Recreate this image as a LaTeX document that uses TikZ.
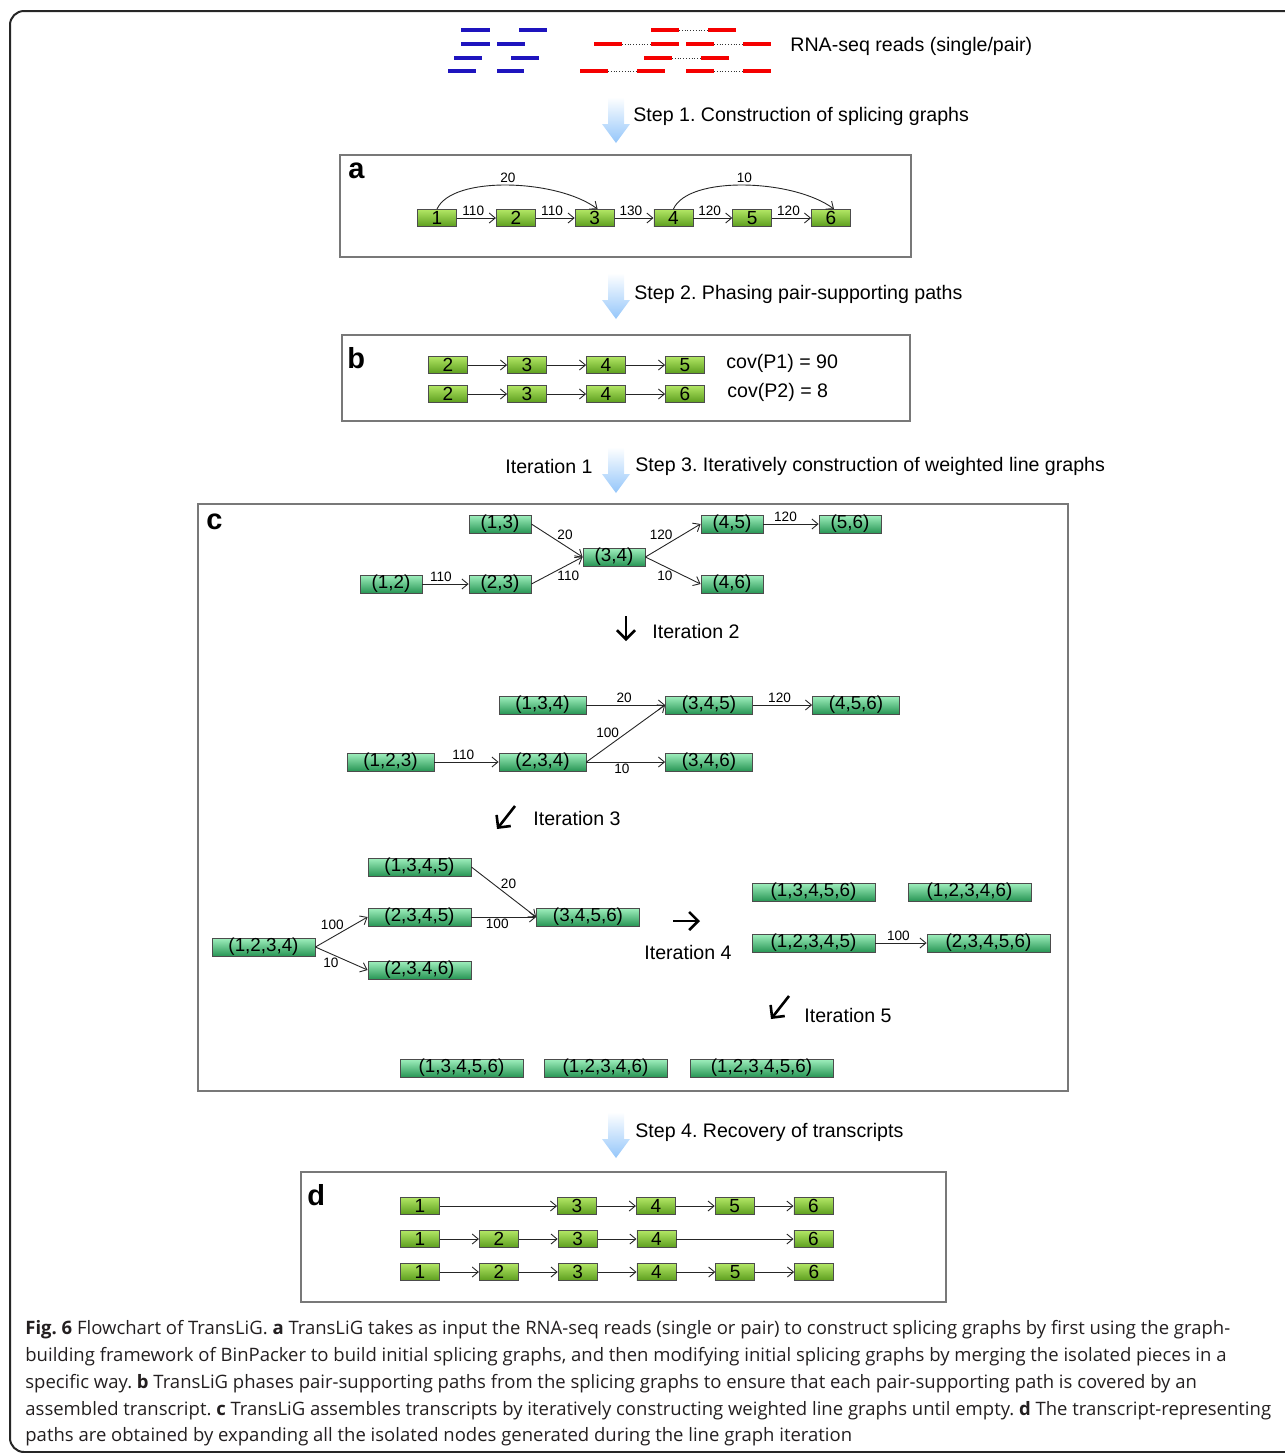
\documentclass[tikz,border=0pt]{standalone}
\usepackage{fontspec}
\setmainfont{Liberation Sans}
\newfontfamily\capfont{Open Sans}
\usetikzlibrary{arrows.meta,positioning}
\frenchspacing

\definecolor{stepblue}{RGB}{148,198,250}
\definecolor{readblue}{RGB}{30,20,190}
\definecolor{readred}{RGB}{245,0,0}
\definecolor{exontop}{RGB}{178,230,100}
\definecolor{exonbot}{RGB}{92,158,30}
\definecolor{pairtop}{RGB}{160,240,190}
\definecolor{pairbot}{RGB}{40,150,85}
\definecolor{framegray}{RGB}{120,120,120}
\definecolor{captext}{RGB}{35,31,32}

\tikzset{
  exon/.style={draw=black!70, top color=exontop, bottom color=exonbot,
    minimum width=19.5pt, minimum height=8.5pt, inner sep=0pt,
    font=\fontsize{9.5}{9.5}\selectfont},
  pairnode/.style={draw=black!70, top color=pairtop, bottom color=pairbot,
    minimum height=9pt, inner sep=0pt, font=\fontsize{9.4}{9.4}\selectfont},
  conn/.style={draw=black!85, line width=0.45pt, -{Straight Barb[length=3pt,width=5pt]}},
  wt/.style={font=\fontsize{6.8}{6.8}\selectfont, inner sep=1pt},
  panel/.style={draw=framegray, line width=0.6pt},
  plabel/.style={font=\fontsize{14.5}{14.5}\bfseries\selectfont, anchor=base west, inner sep=0pt},
  steptext/.style={font=\fontsize{9.8}{9.8}\selectfont, anchor=west, inner sep=0pt},
  iterarrow/.style={line width=1.3pt, -{Straight Barb[length=4.5pt,width=9pt,line width=1.3pt]}},
  read/.style={line width=2pt},
  stepshade/.style={top color=white, bottom color=stepblue},
  capline/.style={anchor=base west, inner sep=0pt, text=captext,
    font=\capfont\fontsize{9.25}{9.25}\selectfont},
}

\begin{document}
\begin{tikzpicture}[x=0.5pt,y=-0.5pt]
\useasboundingbox (0,0) rectangle (1285,1453);
% outer frame, cut off at right and bottom
\begin{scope}
  \clip (0,0) rectangle (1285,1453);
  \draw[line width=1pt, black!85, rounded corners=7pt] (10,11) rectangle (1300,1452);
\end{scope}

% reads
\draw[read, readblue] (461,30) -- ++(29,0) (519,30) -- ++(28,0);
\draw[read, readblue] (461,44) -- ++(29,0) (497,44) -- ++(28,0);
\draw[read, readblue] (454,58) -- ++(28,0) (511,58) -- ++(28,0);
\draw[read, readblue] (448,71) -- ++(28,0) (497,71) -- ++(27,0);
\draw[densely dotted, black!80] (679,30) -- (708,30);
\draw[densely dotted, black!80] (622,44) -- (651,44) (714,44) -- (743,44);
\draw[densely dotted, black!80] (672,58) -- (701,58);
\draw[densely dotted, black!80] (608,71) -- (637,71) (714,71) -- (743,71);
\draw[read, readred] (651,30) -- ++(28,0) (708,30) -- ++(28,0);
\draw[read, readred] (594,44) -- ++(28,0) (651,44) -- ++(28,0);
\draw[read, readred] (686,44) -- ++(28,0) (743,44) -- ++(28,0);
\draw[read, readred] (644,58) -- ++(28,0) (701,58) -- ++(28,0);
\draw[read, readred] (580,71) -- ++(28,0) (637,71) -- ++(28,0);
\draw[read, readred] (686,71) -- ++(28,0) (743,71) -- ++(28,0);
\node[steptext] (reads) at (790,46) {RNA-seq reads (single/pair)};

% step arrows
\shade[stepshade] (608,97) -- ++(16,0) -- ++(0,27) -- ++(6,0) -- ++(-14,19) -- ++(-14,-19) -- ++(6,0) -- cycle;
\shade[stepshade] (608,273) -- ++(16,0) -- ++(0,27) -- ++(6,0) -- ++(-14,19) -- ++(-14,-19) -- ++(6,0) -- cycle;
\shade[stepshade] (608,447) -- ++(16,0) -- ++(0,27) -- ++(6,0) -- ++(-14,19) -- ++(-14,-19) -- ++(6,0) -- cycle;
\shade[stepshade] (608,1112) -- ++(16,0) -- ++(0,27) -- ++(6,0) -- ++(-14,19) -- ++(-14,-19) -- ++(6,0) -- cycle;
\node[steptext] (step1) at (633,116) {Step 1. Construction of splicing graphs};
\node[steptext] (step2) at (634,294) {Step 2. Phasing pair-supporting paths};
\node[steptext] (iter1) at (505,466) {Iteration 1};
\node[steptext] (step3) at (635,466) {Step 3. Iteratively construction of weighted line graphs};
\node[steptext] (step4) at (635,1132) {Step 4. Recovery of transcripts};

% panel a
\draw[panel] (340,155) rectangle (911,257);
\node[plabel] (la) at (348,178) {a};
\node[exon] (a1) at (437,218) {1};
\node[exon, right=19.5pt of a1] (a2) {2};
\node[exon, right=19.5pt of a2] (a3) {3};
\node[exon, right=19.5pt of a3] (a4) {4};
\node[exon, right=19.5pt of a4] (a5) {5};
\node[exon, right=19.5pt of a5] (a6) {6};
\draw[conn] (a1) -- node[wt, above, pos=0.42] {110} (a2);
\draw[conn] (a2) -- node[wt, above, pos=0.42] {110} (a3);
\draw[conn] (a3) -- node[wt, above, pos=0.42] {130} (a4);
\draw[conn] (a4) -- node[wt, above, pos=0.42] {120} (a5);
\draw[conn] (a5) -- node[wt, above, pos=0.42] {120} (a6);
\draw[conn] (a1.north) .. controls +(15,-34) and +(-40,-30) .. node[wt, above] {20} ([xshift=1.5pt]a3.north);
\draw[conn] (a4.north) .. controls +(15,-34) and +(-40,-30) .. node[wt, above] {10} ([xshift=1.5pt]a6.north);

% panel b
\draw[panel] (342,335) rectangle (910,421);
\node[plabel] (lb) at (347,368) {b};
\node[exon] (b1) at (448,365) {2};
\node[exon, right=19.6pt of b1] (b2) {3};
\node[exon, right=19.6pt of b2] (b3) {4};
\node[exon, right=19.6pt of b3] (b4) {5};
\node[exon] (b5) at (448,394) {2};
\node[exon, right=19.6pt of b5] (b6) {3};
\node[exon, right=19.6pt of b6] (b7) {4};
\node[exon, right=19.6pt of b7] (b8) {6};
\draw[conn] (b1) -- (b2);
\draw[conn] (b2) -- (b3);
\draw[conn] (b3) -- (b4);
\draw[conn] (b5) -- (b6);
\draw[conn] (b6) -- (b7);
\draw[conn] (b7) -- (b8);
\node[steptext, right=10.5pt of b4, yshift=1pt] (cov1) {cov(P1) = 90};
\node[steptext, right=11pt of b8, yshift=1pt] (cov2) {cov(P2) = 8};

% panel c
\draw[panel] (198,504) rectangle (1068,1091);
\node[plabel] (lc) at (206,529) {c};
% iteration 1
\node[pairnode, minimum width=31pt] (c13) at (500,524) {(1,3)};
\node[pairnode, minimum width=31pt] (c12) at (391,584) {(1,2)};
\node[pairnode, minimum width=31pt] (c23) at (500,584) {(2,3)};
\node[pairnode, minimum width=31pt] (c34) at (614,557) {(3,4)};
\node[pairnode, minimum width=31pt] (c45) at (732,524) {(4,5)};
\node[pairnode, minimum width=31pt] (c56) at (850,524) {(5,6)};
\node[pairnode, minimum width=31pt] (c46) at (732,584) {(4,6)};
\draw[conn] (c13.east) -- node[wt, above right, pos=0.5, inner sep=0pt] {20} (c34.west);
\draw[conn] (c23.east) -- node[wt, below right, pos=0.5, inner sep=0pt] {110} (c34.west);
\draw[conn] (c12) -- node[wt, above, pos=0.4] {110} (c23);
\draw[conn] (c34.east) -- node[wt, above left, pos=0.5, inner sep=0pt] {120} (c45.west);
\draw[conn] (c34.east) -- node[wt, below left, pos=0.5, inner sep=0pt] {10} (c46.west);
\draw[conn] (c45) -- node[wt, above, pos=0.4] {120} (c56);
\node[steptext] (iter2) at (652,631) {Iteration 2};
\draw[iterarrow] (626,616) -- ++(0,25);
% iteration 2
\node[pairnode, minimum width=43.5pt] (c134) at (542.5,705) {(1,3,4)};
\node[pairnode, minimum width=43.5pt] (c345) at (709,705) {(3,4,5)};
\node[pairnode, minimum width=43.5pt] (c456) at (856,705) {(4,5,6)};
\node[pairnode, minimum width=43.5pt] (c123) at (390.5,762) {(1,2,3)};
\node[pairnode, minimum width=43.5pt] (c234) at (542.5,762) {(2,3,4)};
\node[pairnode, minimum width=43.5pt] (c346) at (709,762) {(3,4,6)};
\draw[conn] (c134) -- node[wt, above, pos=0.48] {20} (c345);
\draw[conn] (c234.east) -- node[wt, above left, pos=0.42, inner sep=0pt] {100} (c345.west);
\draw[conn] (c234) -- node[wt, below, pos=0.45] {10} (c346);
\draw[conn] (c123) -- node[wt, above, pos=0.45] {110} (c234);
\draw[conn] (c345) -- node[wt, above, pos=0.45] {120} (c456);
\node[steptext] (iter3) at (533,818) {Iteration 3};
\draw[iterarrow] (515,806) -- ++(-18,23);
% iteration 3
\node[pairnode, minimum width=51.5pt] (c1345) at (419.5,867) {(1,3,4,5)};
\node[pairnode, minimum width=51.5pt] (c2345) at (419.5,917) {(2,3,4,5)};
\node[pairnode, minimum width=51.5pt] (c3456) at (588,917) {(3,4,5,6)};
\node[pairnode, minimum width=51.5pt] (c1234) at (263.5,947) {(1,2,3,4)};
\node[pairnode, minimum width=51.5pt] (c2346) at (419.5,970) {(2,3,4,6)};
\draw[conn] (c1345.east) -- node[wt, above right, pos=0.45, inner sep=0pt] {20} (c3456.west);
\draw[conn] (c2345) -- node[wt, below, pos=0.4] {100} (c3456);
\draw[conn] (c1234.east) -- node[wt, above left, pos=0.55, inner sep=0pt] {100} (c2345.west);
\draw[conn] (c1234.east) -- node[wt, below left, pos=0.45, inner sep=0pt] {10} (c2346.west);
\node[steptext] (iter4) at (644,952) {Iteration 4};
\draw[iterarrow] (673,921) -- ++(27,0);
% iteration 4
\node[pairnode, minimum width=61.5pt] (c13456) at (813.5,892) {(1,3,4,5,6)};
\node[pairnode, minimum width=61.5pt] (c12346) at (969.5,892) {(1,2,3,4,6)};
\node[pairnode, minimum width=61.5pt] (c12345) at (813.5,943) {(1,2,3,4,5)};
\node[pairnode, minimum width=61.5pt] (c23456) at (988.5,943) {(2,3,4,5,6)};
\draw[conn] (c12345) -- node[wt, above, pos=0.45] {100} (c23456);
\node[steptext] (iter5) at (804,1015) {Iteration 5};
\draw[iterarrow] (789,996) -- ++(-18,23);
% after iteration 5
\node[pairnode, minimum width=61.5pt] (f13456) at (461.5,1068) {(1,3,4,5,6)};
\node[pairnode, minimum width=61.5pt] (f12346) at (605.5,1068) {(1,2,3,4,6)};
\node[pairnode, minimum width=71.5pt] (f123456) at (761.5,1068) {(1,2,3,4,5,6)};

% panel d
\draw[panel] (301,1172) rectangle (946,1302);
\node[plabel] (ld) at (307,1205) {d};
\node[exon] (d1) at (420,1206) {1};
\node[exon, right=58.6pt of d1] (d3) {3};
\node[exon, right=19.5pt of d3] (d4) {4};
\node[exon, right=19.5pt of d4] (d5) {5};
\node[exon, right=19.5pt of d5] (d6) {6};
\draw[conn] (d1) -- (d3);
\draw[conn] (d3) -- (d4);
\draw[conn] (d4) -- (d5);
\draw[conn] (d5) -- (d6);
\node[exon] (e1) at (420,1239) {1};
\node[exon, right=19.5pt of e1] (e2) {2};
\node[exon, right=19.5pt of e2] (e3) {3};
\node[exon, right=19.5pt of e3] (e4) {4};
\node[exon, right=58.6pt of e4] (e6) {6};
\draw[conn] (e1) -- (e2);
\draw[conn] (e2) -- (e3);
\draw[conn] (e3) -- (e4);
\draw[conn] (e4) -- (e6);
\node[exon] (g1) at (420,1272) {1};
\node[exon, right=19.5pt of g1] (g2) {2};
\node[exon, right=19.5pt of g2] (g3) {3};
\node[exon, right=19.5pt of g3] (g4) {4};
\node[exon, right=19.5pt of g4] (g5) {5};
\node[exon, right=19.5pt of g5] (g6) {6};
\draw[conn] (g1) -- (g2);
\draw[conn] (g2) -- (g3);
\draw[conn] (g3) -- (g4);
\draw[conn] (g4) -- (g5);
\draw[conn] (g5) -- (g6);

% caption
\node[capline] (cap1) at (25,1334) {{\bfseries Fig. 6} Flowchart of TransLiG. {\bfseries a} TransLiG takes as input the RNA-seq reads (single or pair) to construct splicing graphs by first using the graph-};
\node[capline] (cap2) at (25,1361) {building framework of BinPacker to build initial splicing graphs, and then modifying initial splicing graphs by merging the isolated pieces in a};
\node[capline] (cap3) at (25,1388) {specific way. {\bfseries b} TransLiG phases pair-supporting paths from the splicing graphs to ensure that each pair-supporting path is covered by an};
\node[capline] (cap4) at (25,1415) {assembled transcript. {\bfseries c} TransLiG assembles transcripts by iteratively constructing weighted line graphs until empty. {\bfseries d} The transcript-representing};
\node[capline] (cap5) at (25,1441) {paths are obtained by expanding all the isolated nodes generated during the line graph iteration};
\end{tikzpicture}
\end{document}
